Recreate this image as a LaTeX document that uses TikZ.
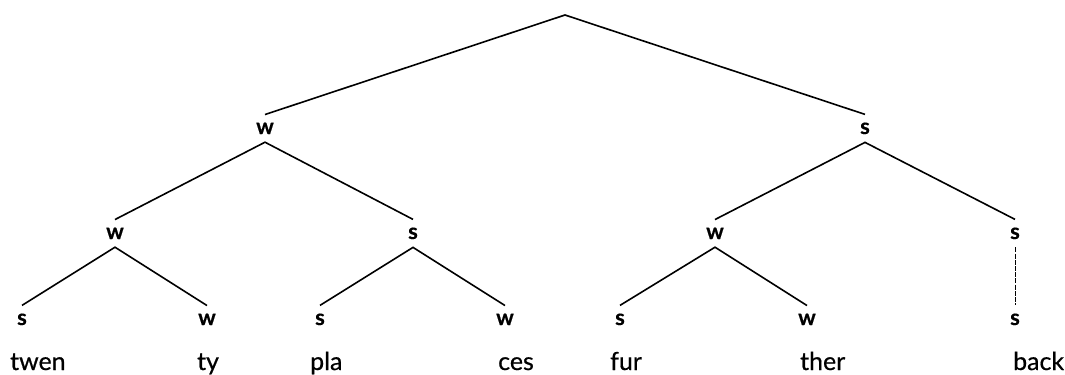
\documentclass[tikz,border=0pt]{standalone}
\usepackage{fontspec}
\setmainfont{Lato}
\newfontface\wordfont{Lato}[FakeBold=0.6]
\newfontface\labfont{Lato Bold}[FakeBold=0.5]
\begin{document}
\begin{tikzpicture}[x=1bp,y=-1bp,
  lab/.style={font=\fontsize{22}{26}\labfont, inner xsep=0pt, inner ysep=8bp, anchor=base},
  word/.style={font=\fontsize{25}{29}\wordfont, inner sep=0pt, anchor=base west},
  branch/.style={line width=1.6bp},
  unary/.style={line width=0.7bp, dash pattern=on 5bp off 1.2bp}]
\useasboundingbox (0,0) rectangle (1065,374);
\coordinate (root) at (565,15);
% level 1
\node[lab] (a) at (265,134) {w};
\node[lab] (b) at (865,134) {s};
% level 2
\node[lab] (aa) at (115,239) {w};
\node[lab] (ab) at (413,239) {s};
\node[lab] (ba) at (715,239) {w};
\node[lab] (bb) at (1015,239) {s};
% level 3
\node[lab] (aaa) at (22,325) {s};
\node[lab] (aab) at (207,325) {w};
\node[lab] (aba) at (320,325) {s};
\node[lab] (abb) at (505,325) {w};
\node[lab] (baa) at (620,325) {s};
\node[lab] (bab) at (807,325) {w};
\node[lab] (bba) at (1015,325) {s};
% words
\node[word] (w1) at (10,370) {twen};
\node[word] (w2) at (197,370) {ty};
\node[word] (w3) at (310,370) {pla};
\node[word] (w4) at (498,370) {ces};
\node[word] (w5) at (610,370) {fur};
\node[word] (w6) at (800,370) {ther};
\node[word] (w7) at (1013,370) {back};
% branches
\draw[branch] (a.north) -- (root) -- (b.north);
\draw[branch] (aa.north) -- (a.south) -- (ab.north);
\draw[branch] (ba.north) -- (b.south) -- (bb.north);
\draw[branch] (aaa.north) -- (aa.south) -- (aab.north);
\draw[branch] (aba.north) -- (ab.south) -- (abb.north);
\draw[branch] (baa.north) -- (ba.south) -- (bab.north);
\draw[unary] (bb.south) -- (bba.north);
\end{tikzpicture}
\end{document}
